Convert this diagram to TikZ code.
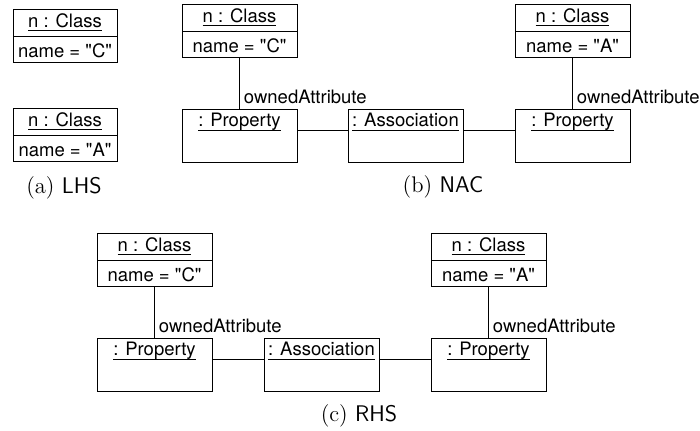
\documentclass[tikz,border=0pt]{standalone}
\usepackage{fontspec}
\newfontfamily\boxfont{TeX Gyre Heros}
\begin{document}
\begin{tikzpicture}[x=0.5pt,y=-0.5pt,
  objbox/.style={draw=black, line width=0.45pt, minimum height=26.5pt, inner sep=0pt, outer sep=0pt},
  objline/.style={draw=black, line width=0.45pt},
  boxtext/.style={font=\boxfont\fontsize{9.25}{11}\selectfont, inner sep=0pt, outer sep=0pt},
  lbl/.style={font=\boxfont\fontsize{9.25}{11}\selectfont, inner sep=0pt, anchor=base west},
  captext/.style={font=\fontsize{11.3}{13}\selectfont, inner sep=0pt, anchor=base}
]
\useasboundingbox (0,0) rectangle (700,430);

\newcommand{\classobj}[5]{%
  \node[objbox, minimum width=#4] (#1) at (#2,#3) {};
  \draw[objline] ([yshift=-13.75pt]#1.north west) -- ([yshift=-13.75pt]#1.north east);
  \node[boxtext, anchor=base] (#1h) at ([yshift=-9pt]#1.north) {n : Class\hspace{2.5pt}};
  \draw[objline] ([yshift=-1.75pt]#1h.base west) -- ([yshift=-1.75pt]#1h.base east);
  \node[boxtext, anchor=base] (#1a) at ([yshift=-24.25pt]#1.north) {#5};
}
\newcommand{\instobj}[4]{%
  \node[objbox, minimum width=57.5pt] (#1) at (#2,#3) {};
  \node[boxtext, anchor=base] (#1h) at ([yshift=-8.75pt]#1.north) {#4\hspace{2.5pt}};
  \draw[objline] ([yshift=-1.75pt]#1h.base west) -- ([yshift=-1.75pt]#1h.base east);
}

% (a) LHS
\classobj{lc}{65}{35.5}{52pt}{name = "C"}
\classobj{la}{65}{134.5}{52pt}{name = "A"}
\node[captext] (capa) at (64,193) {(a) \textsf{LHS}};

% (b) NAC
\classobj{nc}{239.5}{30.5}{57.5pt}{name = "C"}
\instobj{np1}{239.5}{135.5}{: Property}
\instobj{nas}{405.5}{135.5}{: Association}
\classobj{na}{572.5}{30.5}{57.5pt}{name = "A"}
\instobj{np2}{572.5}{135.5}{: Property}
\draw[objline] (nc.south) -- (np1.north) node[lbl, pos=1, xshift=2pt, yshift=3pt] (nl1) {ownedAttribute};
\draw[objline] (na.south) -- (np2.north) node[lbl, pos=1, xshift=2pt, yshift=3pt] (nl2) {ownedAttribute};
\draw[objline] ([yshift=-10.5pt]np1.north east) -- ([yshift=-10.5pt]nas.north west);
\draw[objline] ([yshift=-10.5pt]nas.north east) -- ([yshift=-10.5pt]np2.north west);
\node[captext] (capb) at (443,192.5) {(b) \textsf{NAC}};

% (c) RHS
\classobj{rc}{154.5}{259.5}{57.5pt}{name = "C"}
\instobj{rp1}{154.5}{364.5}{: Property}
\instobj{ras}{321.5}{364.5}{: Association}
\classobj{ra}{488.5}{259.5}{57.5pt}{name = "A"}
\instobj{rp2}{488.5}{364.5}{: Property}
\draw[objline] (rc.south) -- (rp1.north) node[lbl, pos=1, xshift=2pt, yshift=3pt] (rl1) {ownedAttribute};
\draw[objline] (ra.south) -- (rp2.north) node[lbl, pos=1, xshift=2pt, yshift=3pt] (rl2) {ownedAttribute};
\draw[objline] ([yshift=-10.5pt]rp1.north east) -- ([yshift=-10.5pt]ras.north west);
\draw[objline] ([yshift=-10.5pt]ras.north east) -- ([yshift=-10.5pt]rp2.north west);
\node[captext] (capc) at (359,421) {(c) \textsf{RHS}};
\end{tikzpicture}
\end{document}
